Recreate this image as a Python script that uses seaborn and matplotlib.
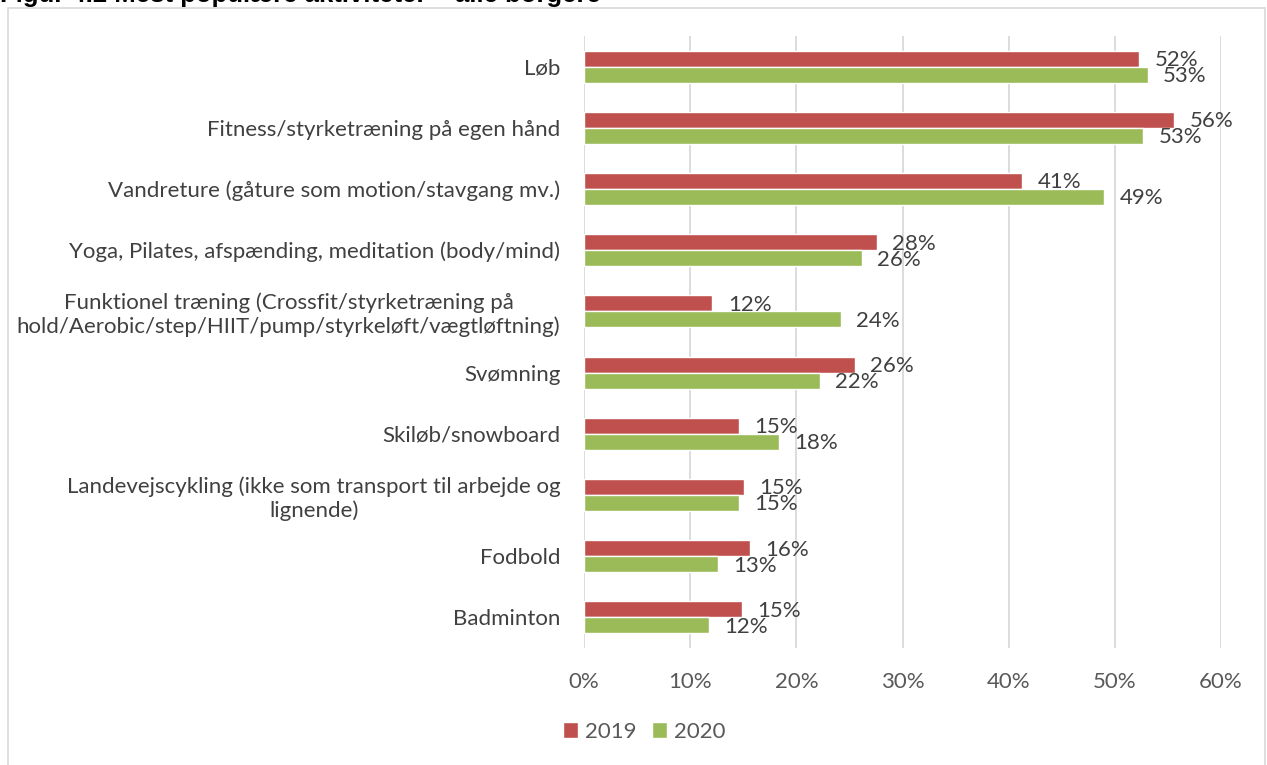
import numpy as np
import pandas as pd
import matplotlib
matplotlib.use("Agg")
import matplotlib.pyplot as plt
from matplotlib.patches import Rectangle, Patch
from matplotlib.ticker import FuncFormatter
import seaborn as sns

# --- Data ---
aktiviteter = [
    "Løb",
    "Fitness/styrketræning på egen hånd",
    "Vandreture (gåture som motion/stavgang mv.)",
    "Yoga, Pilates, afspænding, meditation (body/mind)",
    "Funktionel træning (Crossfit/styrketræning på\nhold/Aerobic/step/HIIT/pump/styrkeløft/vægtløftning)",
    "Svømning",
    "Skiløb/snowboard",
    "Landevejscykling (ikke som transport til arbejde og\nlignende)",
    "Fodbold",
    "Badminton",
]
andel_2019 = [52.3, 55.6, 41.3, 27.6, 12.1, 25.5, 14.6, 15.1, 15.6, 14.9]
andel_2020 = [53.1, 52.7, 49.0, 26.2, 24.2, 22.2, 18.4, 14.6, 12.6, 11.8]
aar = ["2019", "2020"]
x_ticks = [0, 10, 20, 30, 40, 50, 60]

farver = {"2019": "#C0504D", "2020": "#9BBB59"}

df = pd.DataFrame({
    "aktivitet": aktiviteter * 2,
    "andel": andel_2019 + andel_2020,
    "år": [aar[0]] * len(aktiviteter) + [aar[1]] * len(aktiviteter),
})

# --- Style ---
sns.set_style("white")
plt.rcParams["font.family"] = ["Lato", "DejaVu Sans"]
tekst_farve = "#404040"
akse_farve = "#595959"
fs = 16

fig = plt.figure(figsize=(12.67, 7.65), dpi=100)
ax = fig.add_axes([584 / 1267, 1 - 648 / 765, (1221 - 584) / 1267, (648 - 36) / 765])

sns.barplot(data=df, y="aktivitet", x="andel", hue="år", orient="h",
            palette=farver, width=0.52, ax=ax, legend=False, saturation=1)

# --- Axes ---
ax.set_xlim(0, 60)
ax.set_xticks(x_ticks)
ax.xaxis.set_major_formatter(FuncFormatter(lambda v, p: f"{v:.0f}%"))
ax.set_xlabel("")
ax.set_ylabel("")
ax.grid(axis="x", color="#D9D9D9", linewidth=1.3)
ax.set_axisbelow(True)
for s in ax.spines.values():
    s.set_visible(False)
ax.tick_params(axis="x", length=0, pad=17, labelsize=fs, labelcolor=akse_farve)
ax.tick_params(axis="y", length=0, pad=17, labelsize=fs, labelcolor=tekst_farve)
for lbl in ax.get_yticklabels():
    lbl.set_multialignment("center")

# --- Data labels ---
for container in ax.containers:
    for bar in container:
        w = bar.get_width()
        ax.annotate(f"{round(w):.0f}%", (w, bar.get_y() + bar.get_height() / 2),
                    xytext=(11, -1), textcoords="offset points",
                    ha="left", va="center", fontsize=fs, color=tekst_farve)

# --- Legend ---
handles = [Patch(facecolor=farver[a], label=a) for a in aar]
fig.legend(handles=handles, loc="center", bbox_to_anchor=(644 / 1267, 1 - 732 / 765),
           ncol=2, frameon=False, fontsize=fs, handlelength=0.7, handleheight=0.7,
           handletextpad=0.3, columnspacing=0.7, labelcolor=akse_farve)

# --- Frame and cut title ---
fig.patches.append(Rectangle((8 / 1267, -0.01), (1265 - 8) / 1267, 1 - 8 / 765 + 0.01,
                             transform=fig.transFigure, fill=False,
                             edgecolor="#D9D9D9", linewidth=1.2))
fig.text(0.0, 1 - 2 / 765, "Figur 4.2 Mest populære aktiviteter – alle borgere",
         fontsize=18.5, fontweight="bold", family=["Liberation Sans", "DejaVu Sans"],
         ha="left", va="baseline", color="black")

fig.savefig("out.png", dpi=100)
